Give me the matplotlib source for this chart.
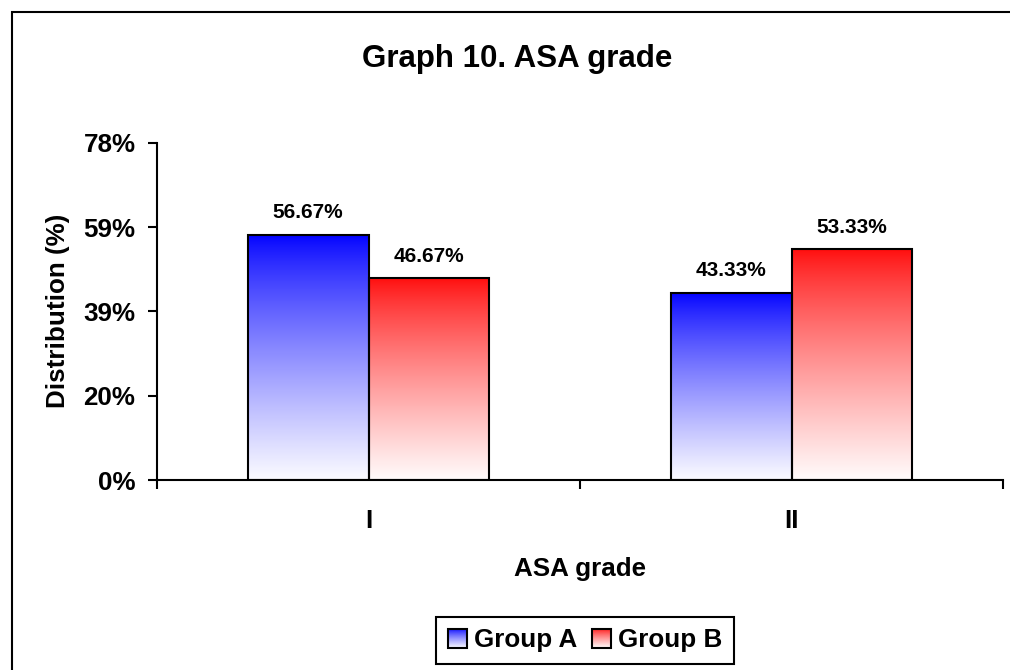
import numpy as np
import matplotlib
matplotlib.use('Agg')
from matplotlib import pyplot as plt
from matplotlib.patches import Rectangle
from matplotlib.legend_handler import HandlerBase
from matplotlib.image import BboxImage
from matplotlib.transforms import Bbox, TransformedBbox

categories = ['I', 'II']
series_names = ['Group A', 'Group B']
group_a = [56.67, 43.33]
group_b = [46.67, 53.33]
y_ticks = [0, 19.5, 39, 58.5, 78]
y_tick_labels = ['0%', '20%', '39%', '59%', '78%']

BLUE = (0.0, 0.0, 1.0)
RED = (1.0, 0.05, 0.05)

plt.rcParams['font.family'] = ['Liberation Sans', 'DejaVu Sans']
plt.rcParams['font.weight'] = 'bold'


def gradient(rgb, n=256):
    # full colour at the top, nearly white at the bottom
    t = np.linspace(0, 1, n)[:, None] ** 0.8
    top = np.array(rgb)[None, :]
    col = top + (1.0 - top) * t * 0.985
    return col[:, None, :]


class GradientHandler(HandlerBase):
    def __init__(self, rgb):
        super().__init__()
        self.rgb = rgb

    def create_artists(self, legend, orig_handle, xdescent, ydescent,
                       width, height, fontsize, trans):
        side = min(width, height)
        x0 = -xdescent + (width - side) / 2
        y0 = -ydescent + (height - side) / 2
        box = TransformedBbox(Bbox.from_bounds(x0, y0, side, side), trans)
        img = BboxImage(box, interpolation='bicubic')
        img.set_data(gradient(self.rgb, 64))
        edge = Rectangle((x0, y0), side, side, facecolor='none',
                         edgecolor='black', lw=1.5, transform=trans)
        return [img, edge]


def main():
    fig = plt.figure(figsize=(10.1, 6.7), dpi=100)
    ax = fig.add_axes([157 / 1010, 1 - 480 / 670, 846 / 1010, 337.3 / 670])

    x = np.arange(len(categories))
    w = 0.286
    bars_a = ax.bar(x - w / 2, group_a, w, facecolor='none', edgecolor='black',
                    lw=1.5, zorder=3)
    bars_b = ax.bar(x + w / 2, group_b, w, facecolor='none', edgecolor='black',
                    lw=1.5, zorder=3)

    for bars, rgb in ((bars_a, BLUE), (bars_b, RED)):
        for r in bars:
            ax.imshow(gradient(rgb), extent=(r.get_x(), r.get_x() + r.get_width(),
                                             0, r.get_height()),
                      aspect='auto', zorder=2, interpolation='bicubic')
            ax.annotate('%.2f%%' % r.get_height(),
                        (r.get_x() + r.get_width() / 2, r.get_height()),
                        xytext=(0, 12), textcoords='offset points',
                        ha='center', va='baseline', fontsize=15,
                        fontweight='bold')

    ax.set_xlim(-0.5, len(categories) - 0.5)
    ax.set_ylim(y_ticks[0], y_ticks[-1])

    for s in ('top', 'right'):
        ax.spines[s].set_visible(False)
    for s in ('left', 'bottom'):
        ax.spines[s].set_linewidth(1.5)

    ax.set_yticks(y_ticks)
    ax.set_yticklabels(y_tick_labels)
    ax.tick_params(axis='y', direction='out', length=6.5, width=1.5,
                   labelsize=18.7, pad=9)

    ax.set_xticks(np.arange(len(categories) + 1) - 0.5)
    ax.set_xticklabels([])
    ax.tick_params(axis='x', which='major', direction='out', length=6.5,
                   width=1.5)
    ax.set_xticks(x, minor=True)
    ax.set_xticklabels(categories, minor=True)
    ax.tick_params(axis='x', which='minor', length=0, labelsize=18.7, pad=21)

    ax.set_ylabel('Distribution (%)', fontsize=18.7, fontweight='bold')
    ax.yaxis.set_label_coords(-0.103, 0.5)
    ax.set_xlabel('ASA grade', fontsize=18.7, fontweight='bold')
    ax.xaxis.set_label_coords(0.5, -0.228)

    fig.text(0.512, 0.9, 'Graph 10. ASA grade', ha='center', va='baseline',
             fontsize=22.5, fontweight='bold')

    h_a = Rectangle((0, 0), 1, 1)
    h_b = Rectangle((0, 0), 1, 1)
    leg = fig.legend([h_a, h_b], series_names, loc='center',
                     bbox_to_anchor=(585 / 1010, 1 - 640.5 / 670), ncol=2,
                     handler_map={h_a: GradientHandler(BLUE),
                                  h_b: GradientHandler(RED)},
                     prop={'size': 18.7, 'weight': 'bold'},
                     handlelength=0.75, handleheight=0.75, handletextpad=0.27,
                     columnspacing=0.54, borderpad=0.45, fancybox=False,
                     framealpha=1)
    leg.get_frame().set_edgecolor('black')
    leg.get_frame().set_linewidth(1.5)

    fig.patches.append(Rectangle((12 / 1010, -0.1), 1.2, 1.1 - 12 / 670,
                                 transform=fig.transFigure, fill=False,
                                 edgecolor='black', lw=1.5))

    fig.savefig('out.png', dpi=100)


if __name__ == "__main__":
    main()
